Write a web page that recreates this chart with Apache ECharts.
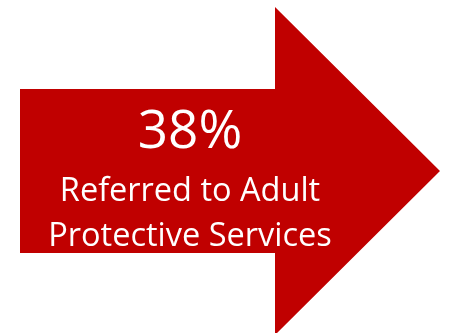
<!DOCTYPE html>
<html><head><meta charset="utf-8">
<script src="https://cdn.jsdelivr.net/npm/echarts@6/dist/echarts.min.js"></script>
<style>html,body{margin:0;padding:0;background:#fff}#c{width:449px;height:333px}</style>
</head><body><div id="c"></div>
<script>
const percentValue = [38];
const labelLines = ['Referred to Adult', 'Protective Services'];
const arrowColor = '#C00000';

const chart = echarts.init(document.getElementById('c'), null, {renderer: 'canvas'});
const arrowPoints = [[20,89],[275,89],[275,7],[440,171],[275,335],[275,253],[20,253]];
chart.setOption({
  animation: false,
  graphic: [
    {type: 'polygon', shape: {points: arrowPoints}, style: {fill: arrowColor}},
    {type: 'text', x: 190, y: 133, style: {text: percentValue[0] + '%', fill: '#fff', font: '53px "Open Sans"', align: 'center', verticalAlign: 'middle'}},
    {type: 'text', x: 190, y: 192, style: {text: labelLines[0], fill: '#fff', font: '32.5px "Open Sans"', align: 'center', verticalAlign: 'middle'}},
    {type: 'text', x: 190, y: 237, style: {text: labelLines[1], fill: '#fff', font: '32.5px "Open Sans"', align: 'center', verticalAlign: 'middle'}}
  ]
});
</script></body></html>
